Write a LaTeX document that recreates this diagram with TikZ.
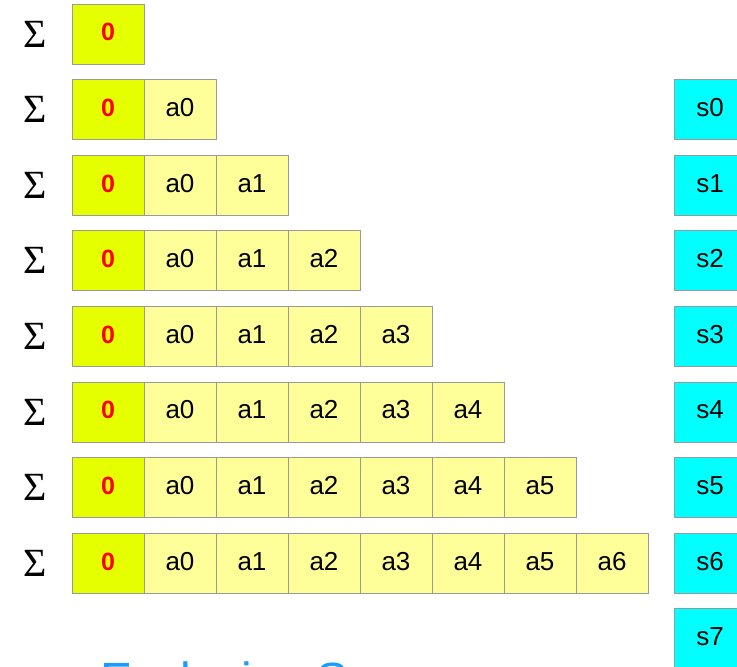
\documentclass[tikz,border=0pt]{standalone}
\usepackage{fontspec}
\setmainfont{Liberation Sans}
\newfontfamily\sigmafont{Liberation Serif}
\definecolor{zerofill}{HTML}{E6FF00}
\definecolor{cellfill}{HTML}{FFFF99}
\definecolor{sumfill}{HTML}{00FFFF}
\definecolor{edgegray}{HTML}{999999}
\definecolor{titleblue}{HTML}{1A9BFF}

\begin{document}
\begin{tikzpicture}[x=1pt,y=-1pt]
                \tikzset{cell/.style = {shape=rectangle,draw=edgegray,line width=1pt,fill=cellfill,minimum width=72pt,minimum height=60pt,inner sep=0pt,text height=20pt,text depth=6.4pt,font=\fontsize{26}{30}\selectfont}}
                \tikzset{zerocell/.style = {cell,fill=zerofill,text=red,font=\fontsize{25}{30}\selectfont\bfseries}}
                \tikzset{sumcell/.style = {cell,fill=sumfill}}
                \tikzset{sigma/.style = {inner sep=0pt,font=\fontsize{40}{44}\selectfont\sigmafont}}

                \useasboundingbox (0,0) rectangle (737,667);
                \clip (0,0) rectangle (737,667);

                % row 1
                \node[sigma] (sig1) at (35,34) {Σ};
                \node[zerocell] (z1) at (108,34) {0};

                % row 2
                \node[sigma] (sig2) at (35,109.6) {Σ};
                \node[zerocell] (z2) at (108,109.6) {0};
                \node[cell] (r2a0) at (180,109.6) {a0};

                % row 3
                \node[sigma] (sig3) at (35,185.2) {Σ};
                \node[zerocell] (z3) at (108,185.2) {0};
                \node[cell] (r3a0) at (180,185.2) {a0};
                \node[cell] (r3a1) at (252,185.2) {a1};

                % row 4
                \node[sigma] (sig4) at (35,260.8) {Σ};
                \node[zerocell] (z4) at (108,260.8) {0};
                \node[cell] (r4a0) at (180,260.8) {a0};
                \node[cell] (r4a1) at (252,260.8) {a1};
                \node[cell] (r4a2) at (324,260.8) {a2};

                % row 5
                \node[sigma] (sig5) at (35,336.4) {Σ};
                \node[zerocell] (z5) at (108,336.4) {0};
                \node[cell] (r5a0) at (180,336.4) {a0};
                \node[cell] (r5a1) at (252,336.4) {a1};
                \node[cell] (r5a2) at (324,336.4) {a2};
                \node[cell] (r5a3) at (396,336.4) {a3};

                % row 6
                \node[sigma] (sig6) at (35,412) {Σ};
                \node[zerocell] (z6) at (108,412) {0};
                \node[cell] (r6a0) at (180,412) {a0};
                \node[cell] (r6a1) at (252,412) {a1};
                \node[cell] (r6a2) at (324,412) {a2};
                \node[cell] (r6a3) at (396,412) {a3};
                \node[cell] (r6a4) at (468,412) {a4};

                % row 7
                \node[sigma] (sig7) at (35,487.6) {Σ};
                \node[zerocell] (z7) at (108,487.6) {0};
                \node[cell] (r7a0) at (180,487.6) {a0};
                \node[cell] (r7a1) at (252,487.6) {a1};
                \node[cell] (r7a2) at (324,487.6) {a2};
                \node[cell] (r7a3) at (396,487.6) {a3};
                \node[cell] (r7a4) at (468,487.6) {a4};
                \node[cell] (r7a5) at (540,487.6) {a5};

                % row 8
                \node[sigma] (sig8) at (35,563.2) {Σ};
                \node[zerocell] (z8) at (108,563.2) {0};
                \node[cell] (r8a0) at (180,563.2) {a0};
                \node[cell] (r8a1) at (252,563.2) {a1};
                \node[cell] (r8a2) at (324,563.2) {a2};
                \node[cell] (r8a3) at (396,563.2) {a3};
                \node[cell] (r8a4) at (468,563.2) {a4};
                \node[cell] (r8a5) at (540,563.2) {a5};
                \node[cell] (r8a6) at (612,563.2) {a6};

                % sums
                \node[sumcell] (s0) at (710,109.6) {s0};
                \node[sumcell] (s1) at (710,185.2) {s1};
                \node[sumcell] (s2) at (710,260.8) {s2};
                \node[sumcell] (s3) at (710,336.4) {s3};
                \node[sumcell] (s4) at (710,412) {s4};
                \node[sumcell] (s5) at (710,487.6) {s5};
                \node[sumcell] (s6) at (710,563.2) {s6};
                \node[sumcell] (s7) at (710,638.8) {s7};

                \node[anchor=base west,inner sep=0pt,text=titleblue,font=\fontsize{48}{52}\selectfont] (title) at (100,696) {Exclusive Scan};

        \end{tikzpicture}
\end{document}
